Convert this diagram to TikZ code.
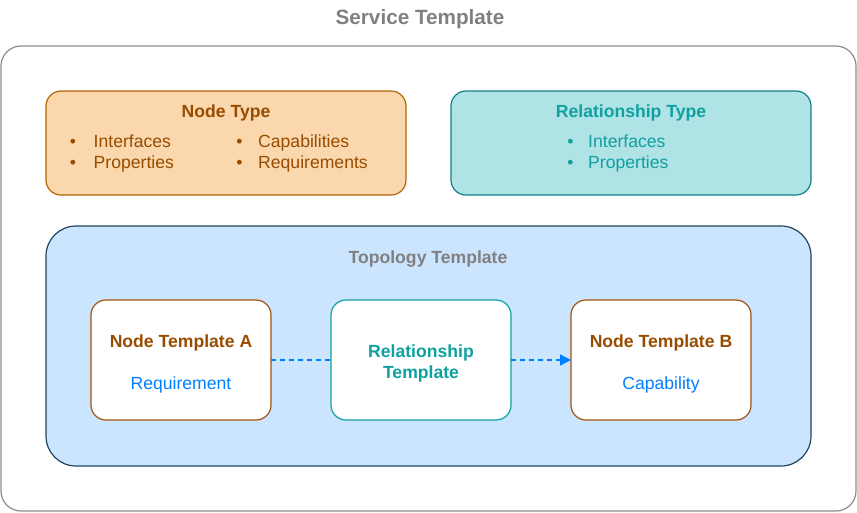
\documentclass[tikz,border=0pt]{standalone}
\usepackage{fontspec}
\setmainfont{Liberation Sans}
\usetikzlibrary{arrows.meta}
\definecolor{grayT}{HTML}{808080}
\definecolor{outerS}{HTML}{8C8C8C}
\definecolor{ntFill}{HTML}{FAD7AC}
\definecolor{ntStroke}{HTML}{B46504}
\definecolor{ntText}{HTML}{994C00}
\definecolor{rtFill}{HTML}{B0E3E6}
\definecolor{rtStroke}{HTML}{0E8088}
\definecolor{rtText}{HTML}{0FA0A0}
\definecolor{topFill}{HTML}{CCE5FF}
\definecolor{topStroke}{HTML}{23445D}
\definecolor{blueT}{HTML}{007FFF}
\definecolor{tplStroke}{HTML}{A0520F}
\tikzset{
  base/.style={inner sep=0pt, outer sep=0pt, line width=1.2pt},
  outerbox/.style={base, draw=outerS, fill=white, rounded corners=20pt},
  ntbox/.style={base, draw=ntStroke, fill=ntFill, rounded corners=15pt},
  rtbox/.style={base, draw=rtStroke, fill=rtFill, rounded corners=15pt},
  topbox/.style={base, draw=topStroke, fill=topFill, rounded corners=30pt},
  tplbox/.style={base, draw=tplStroke, fill=white, rounded corners=15pt},
  reltplbox/.style={base, draw=rtText, fill=white, rounded corners=15pt},
  txt/.style={inner sep=0pt, font=\fontsize{17.6}{21}\selectfont},
  btxt/.style={txt, font=\fontsize{17.6}{21}\selectfont\bfseries},
  conn/.style={draw=blueT, line width=1.2pt, dash pattern=on 5pt off 4pt},
}
\begin{document}
\begin{tikzpicture}[x=1pt,y=-1pt]
\useasboundingbox (0,0) rectangle (857,512);
% outer
\node[outerbox, minimum width=855pt, minimum height=465pt] (outer) at (428.5,278.5) {};
\node[btxt, font=\fontsize{20.7}{24}\selectfont\bfseries, text=grayT, anchor=base] (stitle) at (420,24) {Service Template};
% node type
\node[ntbox, minimum width=360pt, minimum height=104pt] (nt) at (226,143) {};
\node[btxt, text=ntText, anchor=base] (nttitle) at (226,117) {Node Type};
\node[txt, text=ntText, anchor=base] (ntb1) at (73,147.5) {•};
\node[txt, text=ntText, anchor=base] (ntb2) at (73,168.5) {•};
\node[txt, text=ntText, anchor=base west] (nti1) at (93.5,147.5) {Interfaces};
\node[txt, text=ntText, anchor=base west] (nti2) at (93.5,168.5) {Properties};
\node[txt, text=ntText, anchor=base] (ntb3) at (239.5,147.5) {•};
\node[txt, text=ntText, anchor=base] (ntb4) at (239.5,168.5) {•};
\node[txt, text=ntText, anchor=base west] (nti3) at (258,147.5) {Capabilities};
\node[txt, text=ntText, anchor=base west] (nti4) at (258,168.5) {Requirements};
% relationship type
\node[rtbox, minimum width=360pt, minimum height=104pt] (rt) at (631,143) {};
\node[btxt, text=rtText, anchor=base] (rttitle) at (631,117) {Relationship Type};
\node[txt, text=rtText, anchor=base] (rtb1) at (570.5,147.5) {•};
\node[txt, text=rtText, anchor=base] (rtb2) at (570.5,168.5) {•};
\node[txt, text=rtText, anchor=base west] (rti1) at (588,147.5) {Interfaces};
\node[txt, text=rtText, anchor=base west] (rti2) at (588,168.5) {Properties};
% topology
\node[topbox, minimum width=765pt, minimum height=240pt] (top) at (428.5,346) {};
\node[btxt, text=grayT, anchor=base] (toptitle) at (428,263.5) {Topology Template};
% templates
\node[tplbox, minimum width=180pt, minimum height=120pt] (nta) at (181,360) {};
\node[btxt, text=ntText, anchor=base] (ntat) at (181,347.5) {Node Template A};
\node[txt, text=blueT, anchor=base] (ntar) at (181,389.5) {Requirement};
\node[reltplbox, minimum width=180pt, minimum height=120pt] (rtpl) at (421,360) {};
\node[btxt, text=rtText, anchor=base] (rtpl1) at (421,357) {Relationship};
\node[btxt, text=rtText, anchor=base] (rtpl2) at (421,378) {Template};
\node[tplbox, minimum width=180pt, minimum height=120pt] (ntb) at (661,360) {};
\node[btxt, text=ntText, anchor=base] (ntbt) at (661,347.5) {Node Template B};
\node[txt, text=blueT, anchor=base] (ntbc) at (661,389.5) {Capability};
% connectors
\draw[conn] (nta.east) -- (rtpl.west);
\draw[conn, -{Triangle[length=11pt,width=11pt]}] (rtpl.east) -- (ntb.west);
\end{tikzpicture}
\end{document}
